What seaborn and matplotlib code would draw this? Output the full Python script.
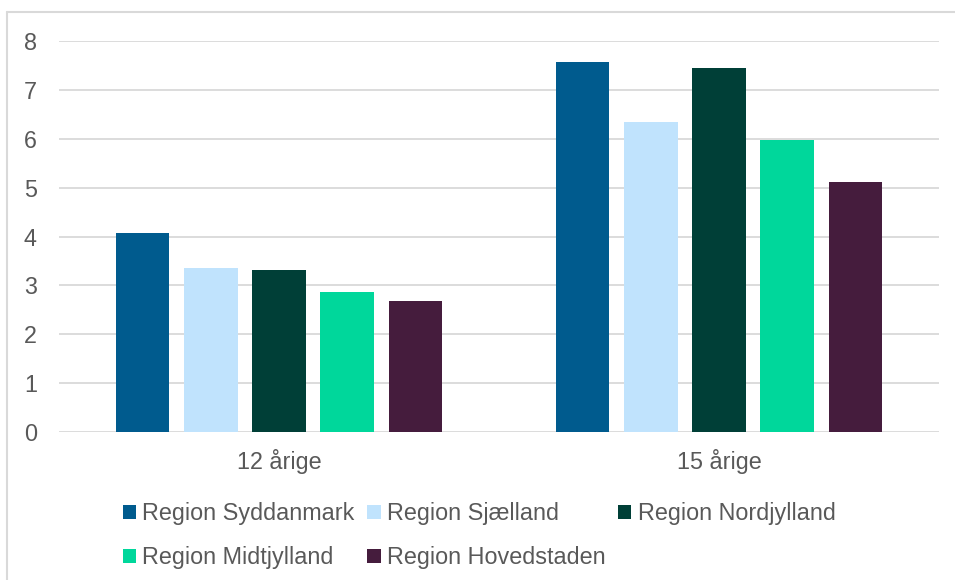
import matplotlib
matplotlib.use("Agg")
import matplotlib.pyplot as plt
from matplotlib.lines import Line2D
import seaborn as sns
import pandas as pd

# ---- data ----
age_groups = ["12 årige", "15 årige"]
regions = ["Region Syddanmark", "Region Sjælland", "Region Nordjylland",
           "Region Midtjylland", "Region Hovedstaden"]
syddanmark = [4.08, 7.58]
sjaelland = [3.36, 6.34]
nordjylland = [3.31, 7.44]
midtjylland = [2.86, 5.98]
hovedstaden = [2.69, 5.12]
colors = ["#005B8E", "#C0E3FD", "#003F37", "#00D79B", "#451C3D"]
yticks = [0, 1, 2, 3, 4, 5, 6, 7, 8]

series = [syddanmark, sjaelland, nordjylland, midtjylland, hovedstaden]
rows = []
for reg, vals in zip(regions, series):
    for ag, v in zip(age_groups, vals):
        rows.append({"age": ag, "region": reg, "value": v})
df = pd.DataFrame(rows)

sns.set_theme(style="white")
plt.rcParams["font.family"] = ["Liberation Sans", "DejaVu Sans"]
text_color = "#595959"
grid_color = "#D9D9D9"
fs = 16.8

fig = plt.figure(figsize=(9.55, 5.8), dpi=100)
ax = fig.add_axes([59 / 955, 1 - 432 / 580, 880 / 955, (432 - 41) / 580])

sns.barplot(data=df, x="age", y="value", hue="region", order=age_groups,
            hue_order=regions, palette=colors, width=0.773, gap=0.22,
            linewidth=0, saturation=1, ax=ax, legend=True)

ax.set_ylim(0, 8)
ax.set_xlim(-0.5, 1.5)
ax.set_yticks(yticks)
ax.set_yticklabels([str(t) for t in yticks])
ax.set_xlabel("")
ax.set_ylabel("")
ax.set_axisbelow(True)
ax.yaxis.grid(True, color=grid_color, linewidth=1.3)
ax.xaxis.grid(False)
for s in ax.spines.values():
    s.set_visible(False)
ax.tick_params(axis="y", length=0, pad=16, labelsize=fs, labelcolor=text_color)
ax.tick_params(axis="x", length=0, pad=12, labelsize=fs, labelcolor=text_color)

handles, labels = ax.get_legend_handles_labels()
ax.get_legend().remove()
order = [0, 3, 1, 4, 2]  # row-wise fill for a 3-column legend
fig.legend([handles[i] for i in order], [labels[i] for i in order], ncol=3,
           loc="upper left", bbox_to_anchor=(123 / 955, (580 - 502) / 580),
           frameon=False, fontsize=fs, labelcolor=text_color,
           handlelength=0.56, handleheight=0.56, handletextpad=0.27,
           columnspacing=0.55, labelspacing=0.9, borderpad=0, borderaxespad=0)

# chart border
fig.add_artist(Line2D([7 / 955, 7 / 955], [0, 1 - 12 / 580], transform=fig.transFigure,
                      color=grid_color, linewidth=1.5))
fig.add_artist(Line2D([7 / 955, 1], [1 - 12 / 580, 1 - 12 / 580], transform=fig.transFigure,
                      color=grid_color, linewidth=1.5))

fig.savefig("out.png", dpi=100)
